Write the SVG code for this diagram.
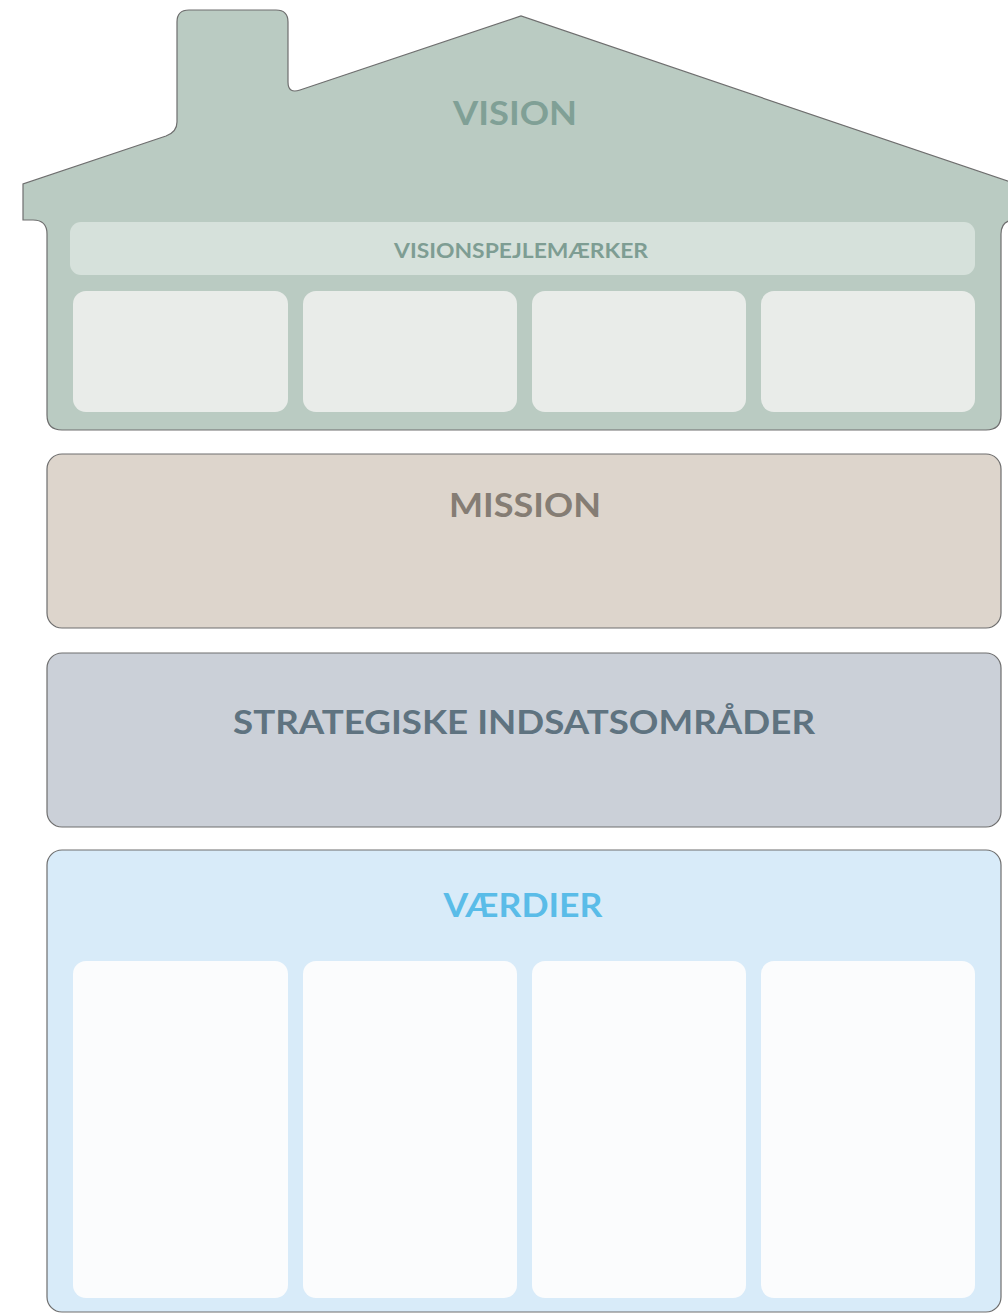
<svg xmlns="http://www.w3.org/2000/svg" width="1008" height="1315" viewBox="0 0 1008 1315">
  <style>
    .outline { stroke: #6e6e6e; stroke-width: 1.2; }
    .label { font-family: Lato, "Open Sans", "Liberation Sans", sans-serif; font-weight: 700; text-anchor: middle; }
    .big { font-size: 33px; }
    .small { font-size: 20px; }
  </style>
  <rect width="1008" height="1315" fill="#ffffff"/>

  <!-- House: vision -->
  <g id="vision">
    <path class="outline" fill="#bacbc2"
      d="M23,220 H33 Q47,220 47,234 V415 Q47,430 62,430 H986 Q1001,430 1001,415 V234 Q1001,220 1015,220 H1025 V187 L521,16 L300,90 Q288,94 288,82 V22 Q288,10 276,10 H189 Q177,10 177,22 V122 Q177,132 166,136 L23,184 Z"/>
    <text class="label big" x="515" y="125" fill="#80a096" textLength="124" lengthAdjust="spacingAndGlyphs">VISION</text>
  </g>

  <g id="visionspejlemaerker">
    <rect x="70" y="222" width="905" height="53" rx="11" fill="#d6e1db"/>
    <text class="label small" x="521" y="258" fill="#7e9d93" textLength="254" lengthAdjust="spacingAndGlyphs">VISIONSPEJLEMÆRKER</text>
  </g>

  <g id="vision-boxes" fill="#e9ece9">
    <rect id="vision-box-1" x="73" y="291" width="215" height="121" rx="13"/>
    <rect id="vision-box-2" x="303" y="291" width="214" height="121" rx="13"/>
    <rect id="vision-box-3" x="532" y="291" width="214" height="121" rx="13"/>
    <rect id="vision-box-4" x="761" y="291" width="214" height="121" rx="13"/>
  </g>

  <!-- Mission -->
  <g id="mission">
    <rect class="outline" x="47" y="454" width="954" height="174" rx="15" fill="#ddd5cc"/>
    <text class="label big" x="525" y="517" fill="#857d74" textLength="152" lengthAdjust="spacingAndGlyphs">MISSION</text>
  </g>

  <!-- Strategic focus areas -->
  <g id="strategiske">
    <rect class="outline" x="47" y="653" width="954" height="174" rx="15" fill="#cbd0d8"/>
    <text class="label big" x="524" y="734" fill="#5f7380" textLength="582" lengthAdjust="spacingAndGlyphs">STRATEGISKE INDSATSOMRÅDER</text>
  </g>

  <!-- Values -->
  <g id="vaerdier">
    <rect class="outline" x="47" y="850" width="954" height="462" rx="15" fill="#d8ebf9"/>
    <text class="label big" x="523" y="917" fill="#5abce8" textLength="159" lengthAdjust="spacingAndGlyphs">VÆRDIER</text>
  </g>

  <g id="value-boxes" fill="#fbfcfd">
    <rect id="value-box-1" x="73" y="961" width="215" height="337" rx="13"/>
    <rect id="value-box-2" x="303" y="961" width="214" height="337" rx="13"/>
    <rect id="value-box-3" x="532" y="961" width="214" height="337" rx="13"/>
    <rect id="value-box-4" x="761" y="961" width="214" height="337" rx="13"/>
  </g>

  <g id="connectors"/>
</svg>
